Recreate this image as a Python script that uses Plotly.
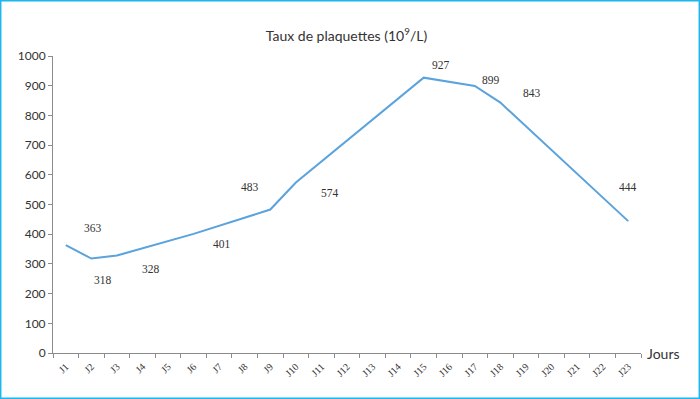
import plotly.graph_objects as go

days = [f"J{i}" for i in range(1, 24)]
meas_days = ["J1", "J2", "J3", "J6", "J9", "J10", "J15", "J17", "J18", "J23"]
values = [363, 318, 328, 401, 483, 574, 927, 899, 843, 444]
y_ticks = list(range(0, 1001, 100))

# label offsets (px) relative to each point
label_dx = [27, 12, 34, 28, -20, 34, 17, 16, 32, 0]
label_dy = [17, -21, -13, -10, 23, -10, 13, 6, 10, 34]

W, H = 700, 399
ml, mr, mt, mb = 53, 59, 56, 46

fig = go.Figure()
fig.add_trace(go.Scatter(
    x=meas_days, y=values, mode="lines",
    line=dict(color="#5BA3DC", width=2),
    hoverinfo="x+y", showlegend=False,
))

for d, v, dx, dy in zip(meas_days, values, label_dx, label_dy):
    fig.add_annotation(x=d, y=v, text=str(v), showarrow=False,
                       xshift=dx, yshift=dy,
                       font=dict(family="Liberation Serif", size=11.5, color="#333333"))

fig.add_annotation(xref="paper", yref="paper", x=1.0, y=0, xshift=4,
                   xanchor="left", yanchor="middle", text="Jours", showarrow=False,
                   font=dict(family="Lato", size=14, color="#333333"))

pw = W - ml - mr
ph = H - mt - mb
fig.add_shape(type="rect", xref="paper", yref="paper",
              x0=(-ml + 0.7) / pw, x1=(W - ml - 0.7) / pw,
              y0=(-mb + 0.7) / ph, y1=(H - mb - 0.7) / ph,
              line=dict(color="#1AB8EE", width=1.5), layer="below")

fig.update_layout(
    width=W, height=H,
    margin=dict(l=ml, r=mr, t=mt, b=mb, autoexpand=False),
    paper_bgcolor="white", plot_bgcolor="white",
    title=dict(text="Taux de plaquettes (10<sup>9</sup>/L)", x=0.495, xanchor="center",
               y=1 - 36 / H, yanchor="middle",
               font=dict(family="Lato", size=14, color="#333333")),
    xaxis=dict(categoryorder="array", categoryarray=days, tickvals=days,
               range=[-0.5, 22.5], tickangle=-45, ticklabelstandoff=3,
               showline=True, linecolor="#8C8C8C", linewidth=1,
               ticks="outside", tickson="boundaries", ticklen=4, tickcolor="#8C8C8C",
               showgrid=False, zeroline=False,
               tickfont=dict(family="Liberation Serif", size=10, color="#333333")),
    yaxis=dict(range=[0, 1000], tickvals=y_ticks,
               showline=True, linecolor="#8C8C8C", linewidth=1,
               ticks="outside", ticklen=4, tickcolor="#8C8C8C",
               showgrid=False, zeroline=False,
               tickfont=dict(family="Lato", size=12, color="#333333")),
)

fig.write_html("out.html", config={"displayModeBar": False},
               post_script="document.body.style.margin='0';document.body.style.overflow='hidden';")
